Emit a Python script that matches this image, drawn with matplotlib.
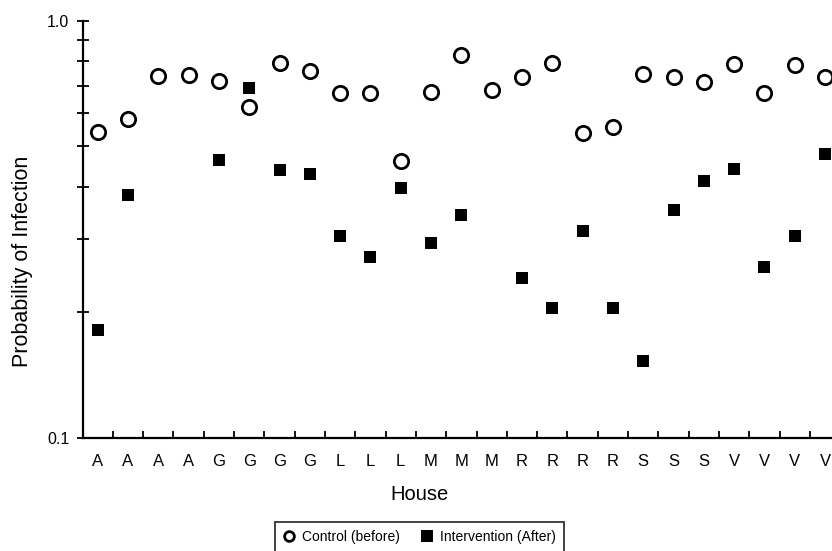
import numpy as np
import matplotlib
matplotlib.use("Agg")
import matplotlib.pyplot as plt
from matplotlib.ticker import FixedLocator, NullFormatter
from matplotlib.lines import Line2D

plt.rcParams['font.family'] = ['Liberation Sans', 'DejaVu Sans']

houses = ["A", "A", "A", "A", "G", "G", "G", "G", "L", "L", "L", "M", "M", "M",
          "R", "R", "R", "R", "S", "S", "S", "V", "V", "V", "V"]
control_before = [0.543, 0.582, 0.738, 0.744, 0.718, 0.621, 0.794, 0.760, 0.671, 0.671,
                  0.462, 0.677, 0.829, 0.683, 0.733, 0.794, 0.540, 0.558, 0.745, 0.733,
                  0.713, 0.788, 0.673, 0.784, 0.733]
intervention_after = [0.1815, 0.383, np.nan, np.nan, 0.464, 0.690, 0.439, 0.430, 0.304, 0.271,
                      0.397, 0.293, 0.343, np.nan, 0.2415, 0.2047, 0.3135, 0.2047, 0.1532, 0.351,
                      0.414, 0.442, 0.2566, 0.304, 0.479]
y_major = [0.1, 1.0]
y_major_labels = ["0.1", "1.0"]
y_minor = [0.2, 0.3, 0.4, 0.5, 0.6, 0.7, 0.8, 0.9]

W, H = 832, 551
fig = plt.figure(figsize=(W / 100, H / 100), dpi=100)
ax = fig.add_axes([82.5 / W, 1 - 437.7 / H, 757.7 / W, (437.7 - 21) / H])

x = np.arange(len(houses))
ax.plot(x, control_before, linestyle='none', marker='o', markersize=10.3,
        markerfacecolor='white', markeredgecolor='black', markeredgewidth=2.0,
        label='Control (before)', zorder=3)
ax.plot(x, intervention_after, linestyle='none', marker='s', markersize=9,
        markerfacecolor='black', markeredgecolor='black', markeredgewidth=0,
        label='Intervention (After)', zorder=4)

ax.set_yscale('log')
ax.set_ylim(0.1, 1.0)
ax.set_xlim(-0.5, len(houses) - 0.5)

ax.yaxis.set_major_locator(FixedLocator(y_major))
ax.set_yticklabels(y_major_labels)
ax.yaxis.set_minor_locator(FixedLocator(y_minor))
ax.yaxis.set_minor_formatter(NullFormatter())
ax.tick_params(axis='y', which='both', direction='inout', length=9, width=1.3,
               labelsize=11.5, pad=5)

ax.set_xticks(x)
ax.set_xticklabels(houses)
ax.xaxis.set_minor_locator(FixedLocator(np.arange(0.5, len(houses) - 0.5, 1.0)))
ax.tick_params(axis='x', which='major', length=0, labelsize=12, pad=12)
ax.tick_params(axis='x', which='minor', direction='in', length=5, width=1.3)

for s in ['top', 'right']:
    ax.spines[s].set_visible(False)
for s in ['left', 'bottom']:
    ax.spines[s].set_linewidth(1.6)

fig.text(23 / W, 1 - 261 / H, 'Probability of Infection', rotation=90,
         ha='center', va='center', fontsize=15.5)
fig.text(419 / W, 1 - 495 / H, 'House', ha='center', va='center', fontsize=14.5)

handles = [
    Line2D([], [], linestyle='none', marker='o', markersize=7, markerfacecolor='white',
           markeredgecolor='black', markeredgewidth=2.0),
    Line2D([], [], linestyle='none', marker='s', markersize=8.5, markerfacecolor='black',
           markeredgewidth=0),
]
leg = fig.legend(handles, ['Control (before)', 'Intervention (After)'],
                 loc='upper center', bbox_to_anchor=(419.5 / W, 1 - 522 / H),
                 ncol=2, fontsize=10, frameon=True, fancybox=False,
                 edgecolor='black', handlelength=0.8, borderaxespad=0,
                 handletextpad=0.5, columnspacing=1.6, borderpad=0.6)
leg.get_frame().set_linewidth(1.3)

fig.savefig('out.png', dpi=100)
